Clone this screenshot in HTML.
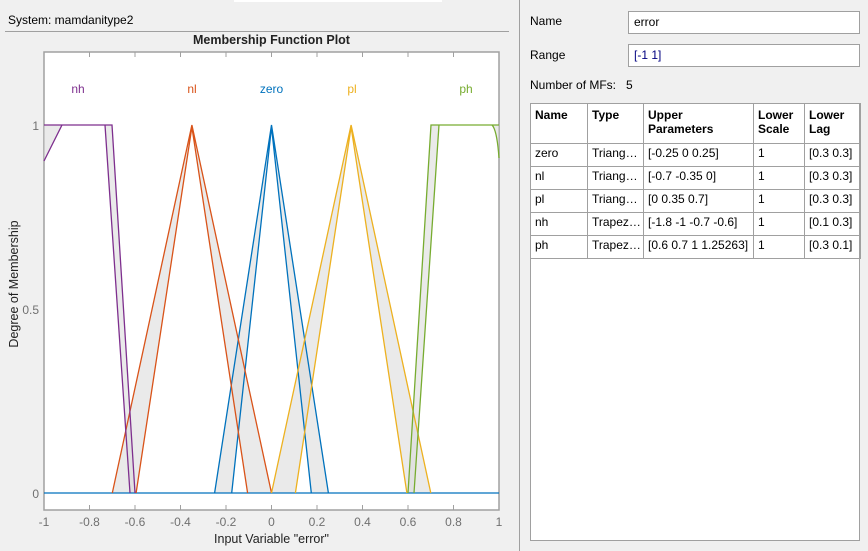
<!DOCTYPE html>
<html><head><meta charset="utf-8"><style>
body{margin:0;width:868px;height:551px;background:#f0f0f0;font-family:"Liberation Sans",sans-serif;position:relative;overflow:hidden;font-size:12px;color:#000}
.a{position:absolute}
.box{position:absolute;background:#fff;border:1px solid #a0a0a0;box-sizing:border-box;padding:3px 5px;font-size:12px}
table{border-collapse:collapse;font-size:12px}
td{border:1px solid #a0a0a0;padding:2px 4px;height:18px;vertical-align:top;white-space:nowrap;overflow:hidden}
th{border:1px solid #a0a0a0;padding:4px 4px;text-align:left;vertical-align:top;height:31px}
</style></head><body>
<div class="a" style="left:234px;top:0;width:208px;height:2px;background:#fff"></div>
<div class="a" style="left:8px;top:13px">System: mamdanitype2</div>
<div class="a" style="left:5px;top:31px;width:504px;height:1px;background:#a0a0a0"></div>
<div class="a" style="left:519px;top:0;width:1px;height:551px;background:#a0a0a0"></div>
<div class="a" style="left:0;top:33px;width:519px;text-align:center;padding-left:24px;box-sizing:border-box;font-weight:bold;font-size:12.5px;color:#222">Membership Function Plot</div>
<svg class="a" style="left:0;top:0" width="519" height="551">
<rect x="44" y="52" width="455" height="458" fill="#fff" stroke="#a0a0a0" stroke-width="1.5"/>
<g stroke="#a0a0a0" stroke-width="1">
<path d="M89.5 52v5M135 52v5M180.5 52v5M226 52v5M271.5 52v5M317 52v5M362.5 52v5M408 52v5M453.5 52v5"/>
<path d="M89.5 510v-5M135 510v-5M180.5 510v-5M226 510v-5M271.5 510v-5M317 510v-5M362.5 510v-5M408 510v-5M453.5 510v-5"/>
</g>
<g fill="#d8d8d8" fill-opacity="0.55" fill-rule="evenodd" stroke="none">
<path d="M214.6 493L271.5 125L328.4 493ZM231.7 493L271.5 127L311.3 493Z"/>
<path d="M112.3 493L191.9 125L271.5 493ZM136.1 493L191.9 127L247.6 493Z"/>
<path d="M271.5 493L351.1 125L430.8 493ZM295.4 493L351.1 127L406.9 493Z"/>
<path d="M44 493L44 125L112 125L135 493ZM44 493L44 161L62 125L105 125L130 493Z"/>
<path d="M408 493L431 125L499 125L499 493ZM414 493L439 125L492 125Q497 130 499 158L499 493Z"/>
</g>
<g fill="none" stroke-width="1.3">
<path d="M44 493H499" stroke="#0072BD"/>
<path d="M214.6 493L271.5 125L328.4 493M231.7 493L271.5 127L311.3 493" stroke="#0072BD"/>
<path d="M112.3 493L191.9 125L271.5 493M136.1 493L191.9 127L247.6 493" stroke="#D95319"/>
<path d="M271.5 493L351.1 125L430.8 493M295.4 493L351.1 127L406.9 493" stroke="#EDB120"/>
<path d="M44 125L112 125L135 493M44 161L62 125L105 125L130 493" stroke="#7E2F8E"/>
<path d="M408 493L431 125L499 125M414 493L439 125L492 125Q497 130 499 158" stroke="#77AC30"/>
</g>
<g font-family="Liberation Sans" font-size="12" text-anchor="middle">
<text x="78" y="93" fill="#7E2F8E">nh</text>
<text x="192" y="93" fill="#D95319">nl</text>
<text x="271.5" y="93" fill="#0072BD">zero</text>
<text x="352" y="93" fill="#EDB120">pl</text>
<text x="466" y="93" fill="#77AC30">ph</text>
</g>
<g font-family="Liberation Sans" font-size="12" fill="#707070" text-anchor="end">
<text x="39" y="130">1</text><text x="39" y="314">0.5</text><text x="39" y="498">0</text>
</g>
<g font-family="Liberation Sans" font-size="12" fill="#707070" text-anchor="middle">
<text x="44" y="526">-1</text><text x="89.5" y="526">-0.8</text><text x="135" y="526">-0.6</text><text x="180.5" y="526">-0.4</text><text x="226" y="526">-0.2</text><text x="271.5" y="526">0</text><text x="317" y="526">0.2</text><text x="362.5" y="526">0.4</text><text x="408" y="526">0.6</text><text x="453.5" y="526">0.8</text><text x="499" y="526">1</text>
</g>
<text x="271.5" y="543" font-family="Liberation Sans" font-size="12.5" fill="#222" text-anchor="middle">Input Variable "error"</text>
<text transform="translate(18 284) rotate(-90)" font-family="Liberation Sans" font-size="12.5" fill="#222" text-anchor="middle">Degree of Membership</text>
</svg>
<div class="a" style="left:530px;top:14px">Name</div>
<div class="box" style="left:628px;top:11px;width:232px;height:23px">error</div>
<div class="a" style="left:530px;top:48px">Range</div>
<div class="box" style="left:628px;top:44px;width:232px;height:23px;color:#000080">[-1 1]</div>
<div class="a" style="left:530px;top:78px">Number of MFs:&nbsp;&nbsp;&nbsp;5</div>
<div class="a" style="left:530px;top:103px;width:330px;height:438px;background:#fff;border:1px solid #a0a0a0;box-sizing:border-box"></div>
<table class="a" style="left:530px;top:103px;width:330px;table-layout:fixed">
<colgroup><col style="width:57px"><col style="width:56px"><col style="width:110px"><col style="width:51px"><col style="width:56px"></colgroup>
<tr><th>Name</th><th>Type</th><th>Upper<br>Parameters</th><th>Lower<br>Scale</th><th>Lower<br>Lag</th></tr>
<tr><td>zero</td><td>Triang…</td><td>[-0.25 0 0.25]</td><td>1</td><td>[0.3 0.3]</td></tr>
<tr><td>nl</td><td>Triang…</td><td>[-0.7 -0.35 0]</td><td>1</td><td>[0.3 0.3]</td></tr>
<tr><td>pl</td><td>Triang…</td><td>[0 0.35 0.7]</td><td>1</td><td>[0.3 0.3]</td></tr>
<tr><td>nh</td><td>Trapez…</td><td>[-1.8 -1 -0.7 -0.6]</td><td>1</td><td>[0.1 0.3]</td></tr>
<tr><td>ph</td><td>Trapez…</td><td>[0.6 0.7 1 1.25263]</td><td>1</td><td>[0.3 0.1]</td></tr>
</table>
</body></html>
